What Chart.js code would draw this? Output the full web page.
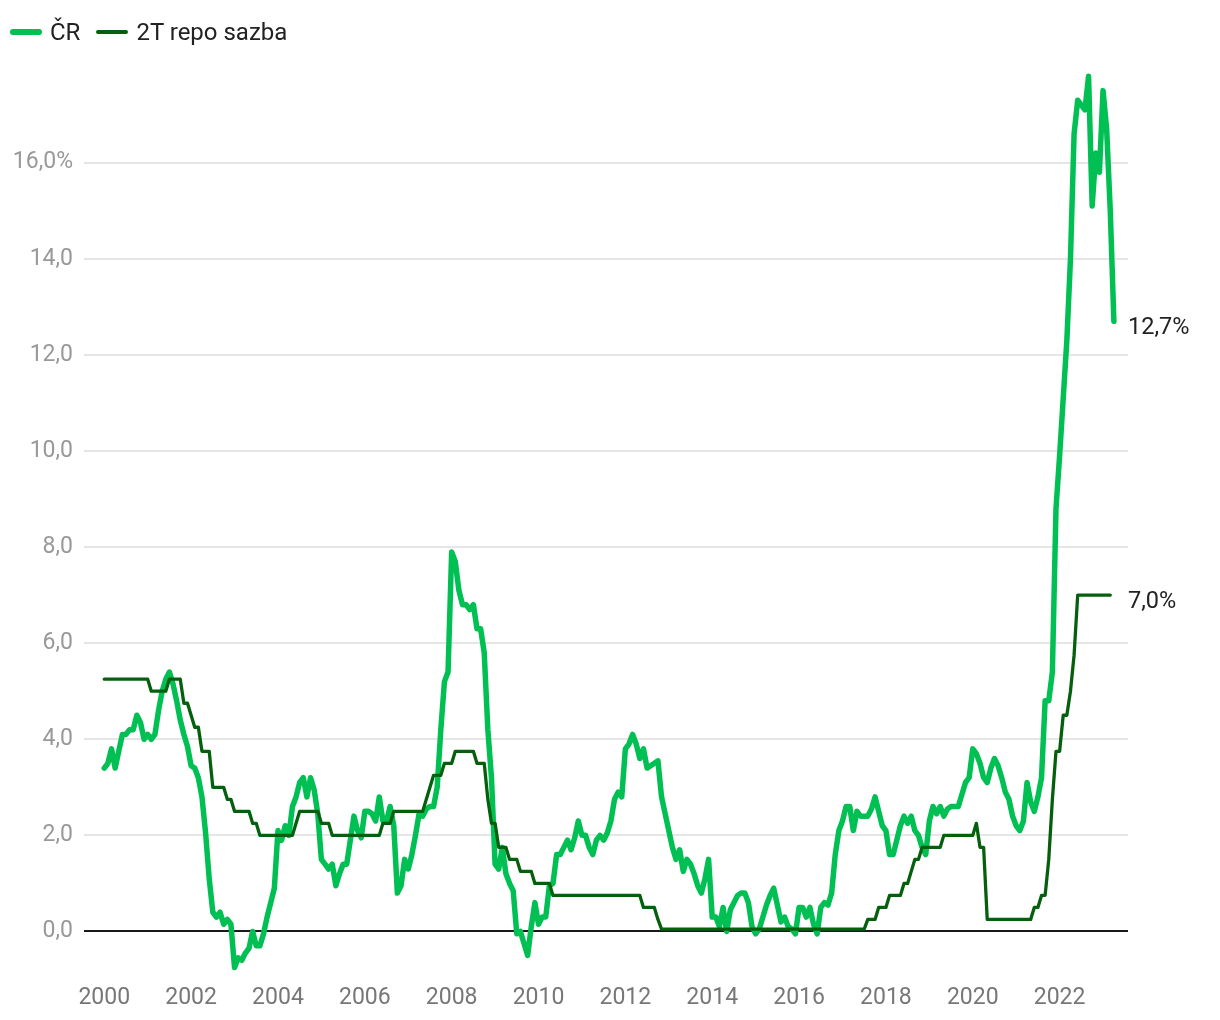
<!DOCTYPE html>
<html>
<head>
<meta charset="utf-8">
<script src="https://cdn.jsdelivr.net/npm/chart.js@4.4.0/dist/chart.umd.min.js"></script>
<style>
  html, body { margin: 0; padding: 0; background: #fff; }
  #wrap { position: relative; width: 1220px; height: 1020px; }
  #legend {
    position: absolute; left: 10px; top: 18px;
    font-family: Roboto, sans-serif; font-size: 24px; color: #222;
    display: flex; align-items: center;
  }
  .item { display: flex; align-items: center; margin-right: 16px; }
  .swatch { display: inline-block; width: 32px; border-radius: 4px; margin-right: 8px; }
</style>
</head>
<body>
<div id="wrap">
  <canvas id="chart" width="1220" height="1020"></canvas>
  <div id="legend">
    <div class="item"><span class="swatch" style="height:6px;background:#00c054"></span>ČR</div>
    <div class="item"><span class="swatch" style="height:4px;background:#04600c"></span>2T repo sazba</div>
  </div>
</div>
<script>
// month index 0 = leden 2000
var tickMonths = [0, 24, 48, 72, 96, 120, 144, 168, 192, 216, 240, 264];
var tickLabels = ['2000', '2002', '2004', '2006', '2008', '2010', '2012', '2014', '2016', '2018', '2020', '2022'];
var yTicks = [0, 2, 4, 6, 8, 10, 12, 14, 16];
var yTickLabels = ['0,0', '2,0', '4,0', '6,0', '8,0', '10,0', '12,0', '14,0', '16,0%'];

// inflace CR, mezirocne, mesicne
var crInflation = [
  3.4, 3.5, 3.8, 3.4, 3.75, 4.1, 4.1, 4.2, 4.2, 4.5, 4.35, 4.0,
  4.1, 4.0, 4.1, 4.6, 5.0, 5.25, 5.4, 5.15, 4.8, 4.4, 4.1, 3.85,
  3.45, 3.4, 3.2, 2.8, 2.05, 1.1, 0.4, 0.3, 0.4, 0.15, 0.25, 0.15,
  -0.75, -0.55, -0.6, -0.45, -0.35, 0.0, -0.3, -0.3, -0.05, 0.3, 0.6, 0.9,
  2.1, 1.9, 2.2, 2.0, 2.6, 2.8, 3.1, 3.2, 2.8, 3.2, 2.95, 2.45,
  1.5, 1.4, 1.3, 1.4, 0.95, 1.2, 1.4, 1.4, 1.9, 2.4, 2.1, 1.95,
  2.5, 2.5, 2.45, 2.3, 2.8, 2.3, 2.3, 2.6, 2.2, 0.8, 0.95, 1.5,
  1.3, 1.6, 2.0, 2.45, 2.4, 2.55, 2.6, 2.6, 3.0, 4.2, 5.2, 5.4,
  7.9, 7.7, 7.1, 6.8, 6.8, 6.7, 6.8, 6.3, 6.3, 5.8, 4.2, 3.2,
  1.4, 1.3, 1.75, 1.2, 1.0, 0.85, -0.05, 0.0, -0.25, -0.5, 0.1, 0.6,
  0.15, 0.3, 0.3, 0.95, 1.0, 1.6, 1.6, 1.75, 1.9, 1.7, 1.95, 2.3,
  2.0, 2.0, 1.75, 1.6, 1.9, 2.0, 1.9, 2.05, 2.3, 2.75, 2.9, 2.8,
  3.8, 3.9, 4.1, 3.9, 3.6, 3.8, 3.4, 3.45, 3.5, 3.55, 2.8, 2.45,
  2.1, 1.75, 1.5, 1.7, 1.25, 1.5, 1.4, 1.2, 0.95, 0.8, 1.1, 1.5,
  0.3, 0.3, 0.1, 0.5, 0.0, 0.45, 0.6, 0.75, 0.8, 0.8, 0.6, 0.1,
  -0.05, 0.05, 0.3, 0.55, 0.75, 0.9, 0.55, 0.2, 0.3, 0.1, 0.05, -0.05,
  0.5, 0.5, 0.3, 0.5, 0.15, -0.05, 0.5, 0.6, 0.55, 0.8, 1.6, 2.1,
  2.3, 2.6, 2.6, 2.1, 2.5, 2.4, 2.4, 2.4, 2.55, 2.8, 2.5, 2.2,
  2.1, 1.6, 1.6, 1.9, 2.2, 2.4, 2.25, 2.4, 2.1, 2.0, 1.75, 1.6,
  2.3, 2.6, 2.45, 2.6, 2.4, 2.55, 2.6, 2.6, 2.6, 2.85, 3.1, 3.2,
  3.8, 3.7, 3.5, 3.2, 3.1, 3.4, 3.6, 3.45, 3.2, 2.9, 2.75, 2.4,
  2.2, 2.1, 2.3, 3.1, 2.7, 2.5, 2.8, 3.2, 4.8, 4.8, 5.4, 8.8,
  9.9, 11.1, 12.3, 14.0, 16.6, 17.3, 17.2, 17.1, 17.8, 15.1, 16.2, 15.8,
  17.5, 16.7, 15.0, 12.7
];

// 2T repo sazba CNB
var repoRate = [
  5.25, 5.25, 5.25, 5.25, 5.25, 5.25, 5.25, 5.25, 5.25, 5.25, 5.25, 5.25,
  5.25, 5.0, 5.0, 5.0, 5.0, 5.0, 5.25, 5.25, 5.25, 5.25, 4.75, 4.75,
  4.5, 4.25, 4.25, 3.75, 3.75, 3.75, 3.0, 3.0, 3.0, 3.0, 2.75, 2.75,
  2.5, 2.5, 2.5, 2.5, 2.5, 2.25, 2.25, 2.0, 2.0, 2.0, 2.0, 2.0,
  2.0, 2.0, 2.0, 2.0, 2.0, 2.25, 2.5, 2.5, 2.5, 2.5, 2.5, 2.5,
  2.25, 2.25, 2.25, 2.0, 2.0, 2.0, 2.0, 2.0, 2.0, 2.0, 2.0, 2.0,
  2.0, 2.0, 2.0, 2.0, 2.0, 2.25, 2.25, 2.25, 2.5, 2.5, 2.5, 2.5,
  2.5, 2.5, 2.5, 2.5, 2.5, 2.75, 3.0, 3.25, 3.25, 3.25, 3.5, 3.5,
  3.5, 3.75, 3.75, 3.75, 3.75, 3.75, 3.75, 3.5, 3.5, 3.5, 2.75, 2.25,
  2.25, 1.75, 1.75, 1.75, 1.5, 1.5, 1.5, 1.25, 1.25, 1.25, 1.25, 1.0,
  1.0, 1.0, 1.0, 1.0, 0.75, 0.75, 0.75, 0.75, 0.75, 0.75, 0.75, 0.75,
  0.75, 0.75, 0.75, 0.75, 0.75, 0.75, 0.75, 0.75, 0.75, 0.75, 0.75, 0.75,
  0.75, 0.75, 0.75, 0.75, 0.75, 0.5, 0.5, 0.5, 0.5, 0.25, 0.05, 0.05,
  0.05, 0.05, 0.05, 0.05, 0.05, 0.05, 0.05, 0.05, 0.05, 0.05, 0.05, 0.05,
  0.05, 0.05, 0.05, 0.05, 0.05, 0.05, 0.05, 0.05, 0.05, 0.05, 0.05, 0.05,
  0.05, 0.05, 0.05, 0.05, 0.05, 0.05, 0.05, 0.05, 0.05, 0.05, 0.05, 0.05,
  0.05, 0.05, 0.05, 0.05, 0.05, 0.05, 0.05, 0.05, 0.05, 0.05, 0.05, 0.05,
  0.05, 0.05, 0.05, 0.05, 0.05, 0.05, 0.05, 0.25, 0.25, 0.25, 0.5, 0.5,
  0.5, 0.75, 0.75, 0.75, 0.75, 1.0, 1.0, 1.25, 1.5, 1.5, 1.75, 1.75,
  1.75, 1.75, 1.75, 1.75, 2.0, 2.0, 2.0, 2.0, 2.0, 2.0, 2.0, 2.0,
  2.0, 2.25, 1.75, 1.75, 0.25, 0.25, 0.25, 0.25, 0.25, 0.25, 0.25, 0.25,
  0.25, 0.25, 0.25, 0.25, 0.25, 0.5, 0.5, 0.75, 0.75, 1.5, 2.75, 3.75,
  3.75, 4.5, 4.5, 5.0, 5.75, 7.0, 7.0, 7.0, 7.0, 7.0, 7.0, 7.0,
  7.0, 7.0, 7.0
];

var cr_color = '#00c054';
var repo_color = '#04600c';
var font = 'Roboto';

var ctx = document.getElementById('chart');

// popisky posledni hodnoty vpravo od grafu
var endLabels = {
    id: 'endLabels',
    afterDatasetsDraw: function (chart) {
        var c = chart.ctx;
        c.save();
        c.font = '23.5px ' + font;
        c.fillStyle = '#222';
        c.textBaseline = 'middle';
        c.textAlign = 'left';
        chart.data.datasets.forEach(function (ds, i) {
            var meta = chart.getDatasetMeta(i);
            var last = meta.data[meta.data.length - 1];
            var v = ds.data[ds.data.length - 1].y;
            c.fillText(v.toFixed(1).replace('.', ',') + '%', chart.chartArea.right, last.y + 7);
        });
        c.restore();
    }
};

var cfg = {
    type: 'line',
    data: {
        datasets: [{
            label: 'ČR',
            data: crInflation.map(function (v, i) { return {x: i, y: v}; }),
            borderColor: cr_color,
            borderWidth: 5.5,
            pointRadius: 0,
            borderJoinStyle: 'round',
            borderCapStyle: 'round',
            tension: 0,
            order: 1
        }, {
            label: '2T repo sazba',
            data: repoRate.map(function (v, i) { return {x: i, y: v}; }),
            borderColor: repo_color,
            borderWidth: 3.3,
            pointRadius: 0,
            borderJoinStyle: 'round',
            borderCapStyle: 'round',
            tension: 0,
            order: 0
        }]
    },
    options: {
        responsive: false,
        animation: false,
        devicePixelRatio: 1,
        layout: {
            padding: {top: 66.6, right: 92, left: 0, bottom: 0}
        },
        scales: {
            x: {
                type: 'linear',
                min: -5.6,
                max: 282.9,
                afterBuildTicks: function (axis) {
                    axis.ticks = tickMonths.map(function (v) { return {value: v}; });
                },
                afterFit: function (axis) { axis.height = 40.5; },
                ticks: {
                    autoSkip: false,
                    maxRotation: 0,
                    padding: 5,
                    color: '#777',
                    font: {family: font, size: 23},
                    callback: function (v, i) { return tickLabels[i]; }
                },
                grid: {display: false, drawTicks: false},
                border: {display: false}
            },
            y: {
                type: 'linear',
                min: -1,
                max: 18,
                afterBuildTicks: function (axis) {
                    axis.ticks = yTicks.map(function (v) { return {value: v}; });
                },
                afterFit: function (axis) { axis.width = 84; },
                ticks: {
                    padding: 11,
                    color: '#999',
                    font: {family: font, size: 23},
                    callback: function (v, i) { return yTickLabels[i]; }
                },
                grid: {
                    drawTicks: false,
                    color: function (c) { return c.tick && c.tick.value === 0 ? '#1a1a1a' : '#e6e6e6'; },
                    lineWidth: 2
                },
                border: {display: false}
            }
        },
        plugins: {
            legend: {display: false},
            tooltip: {enabled: false}
        }
    },
    plugins: [endLabels]
};

var chart = new Chart(ctx, cfg);
</script>
</body>
</html>
